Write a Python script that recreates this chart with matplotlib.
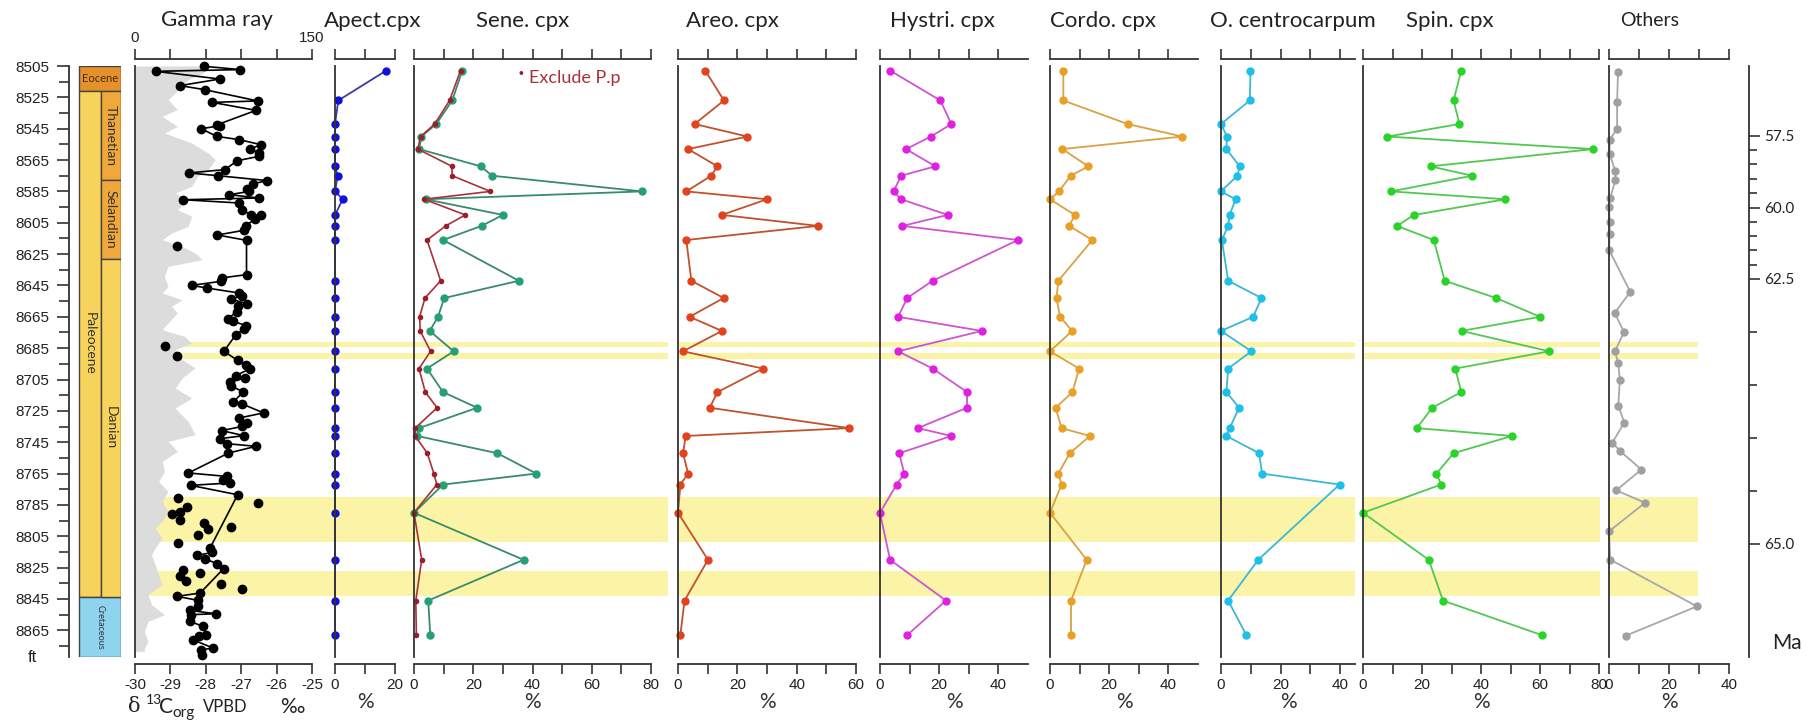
import numpy as np
import matplotlib.pyplot as plt
from matplotlib.patches import Rectangle

W, H = 1816, 721
TOP, BOT = 66, 657            # pixel rows of the plotting strip
YLIM = (8882, 8505)           # depth (ft), increasing downwards

# ---------------- data ----------------
# palynology sample depths (ft)
PAL_DEPTH = [8508, 8527, 8542, 8550, 8558, 8569, 8575, 8585, 8590, 8600, 8607, 8616,
             8642, 8653, 8665, 8674, 8687, 8698, 8713, 8723, 8736, 8741, 8752, 8765,
             8772, 8790, 8820, 8846, 8868]
APECT = [17, 1.1, 0, 0, 0, 0, 0.9, 0, 2.6, 0, 0, 0, 0, 0, 0, 0, 0, 0, 0, 0, 0, 0, 0,
         0, 0, 0, 0, 0, 0]
SENE_ALL = [16.3, 12.9, 7.5, 2.5, 1.7, 22.5, 26.4, 77, 3.9, 30, 22.8, 9.8, 35.4, 10.2,
            8.1, 5.3, 13.4, 4.4, 9.8, 21.3, 1.7, 1.1, 28.1, 41.3, 9.8, 0, 37, 4.8, 5.5]
SENE_EXCL = [15.7, 12.0, 7.0, 2.2, 1.3, 12.8, 12.9, 25.8, 3.4, 17.3, 10.7, 4.4, 9.0, 3.7,
             1.9, 2.1, 5.6, 1.7, 3.8, 7.8, 0.4, 0.4, 4.5, 6.7, 7.7, 0, 2.6, 0.6, 0.8]
AREO = [9.2, 15.5, 5.6, 23.4, 3.4, 13.3, 11.2, 2.8, 30, 14.8, 47.2, 2.8, 4.5, 15.4, 3.9,
        14.8, 1.7, 28.7, 13.3, 10.7, 57.7, 2.6, 1.7, 3.4, 0.8, 0, 10.1, 2.2, 0.8]
HYSTRI = [3.5, 20.4, 24.1, 17.2, 8.8, 18.7, 7.1, 4.6, 7.1, 22.9, 7.6, 46.6, 17.8, 9.2,
          6.1, 34.4, 6.1, 17.8, 29.4, 29.4, 12.8, 24.1, 6.5, 8.2, 5.6, 0, 3.4, 22.3, 9.2]
CORDO = [4.5, 4.5, 26.2, 44.7, 4.2, 12.9, 7.0, 3.0, 0, 8.4, 6.5, 14.3, 2.8, 2.2, 3.4,
         7.5, 0, 9.8, 7.6, 1.9, 3.9, 13.5, 6.7, 2.8, 3.9, 0, 12.4, 7.1, 7.1]
OCENT = [9.9, 9.7, 0, 2.0, 1.8, 6.3, 5.5, 0, 4.9, 2.9, 2.4, 0.3, 2.4, 13.6, 10.8, 0,
         10.2, 2.4, 1.8, 6.1, 2.9, 1.8, 12.8, 13.8, 39.8, np.nan, 12.5, 2.4, 8.5]
SPIN = [33.3, 30.7, 32.7, 8.3, 78, 22.9, 37, 9.5, 48.3, 17.3, 11.5, 24, 27.7, 45.1, 60,
        33.4, 63.1, 31.3, 33.3, 23.5, 18.2, 50.5, 30.7, 24.9, 26.5, 0, 22.3, 27.1, 60.6]
OTHERS_DEPTH = [8509.1, 8528.2, 8545.2, 8552.0, 8560.9, 8572.2, 8578.0, 8589.2, 8594.9,
                8604.7, 8612.1, 8622.2, 8649.1, 8662.5, 8674.7, 8687.0, 8694.6, 8705.5,
                8721.7, 8732.5, 8745.3, 8750.4, 8762.5, 8775.7, 8783.6, 8801.9, 8819.9,
                8849.7, 8868.4]
OTHERS = [3.0, 2.7, 2.7, 0.2, 0.2, 2.1, 2.1, 0.4, 0, 0.2, 0.2, 0, 7.1, 1.9, 5.0, 2.0,
          3.1, 3.6, 3.1, 5.1, 1.1, 3.6, 10.8, 2.4, 12, 0, 0.4, 29.3, 5.6]

# gamma ray log (API)
GR_DEPTH = [8505, 8509.4, 8513.7, 8522.2, 8526.5, 8532.8, 8537.1, 8543.5, 8547.7, 8554.1,
            8560.5, 8564.7, 8571.1, 8575.4, 8581.8, 8586.0, 8590.3, 8596.6, 8600.9, 8607.3,
            8611.5, 8615.8, 8620.1, 8624.3, 8628.5, 8632.8, 8639.2, 8645.6, 8649.8, 8654.1,
            8658.3, 8662.5, 8668.9, 8673.2, 8677.5, 8681.7, 8686.0, 8692.3, 8697.6, 8704.0,
            8710.4, 8716.8, 8723.2, 8731.7, 8740.2, 8744.5, 8750.8, 8757.2, 8763.6, 8770.0,
            8776.4, 8782.7, 8789.1, 8795.5, 8799.7, 8806.1, 8812.5, 8816.7, 8823.1, 8829.5,
            8835.8, 8842.2, 8848.6, 8855.0, 8859.3, 8865.7, 8872.0, 8876.3, 8878.4]
GR_API = [58, 58, 45, 34, 28, 36, 23, 36, 25, 48, 62, 68, 62, 53, 48, 34, 45, 36, 48, 45,
          31, 23, 40, 51, 57, 28, 25, 28, 23, 40, 31, 36, 28, 23, 42, 48, 34, 40, 51, 40,
          34, 48, 34, 45, 51, 28, 36, 23, 25, 20, 28, 23, 28, 23, 17, 23, 17, 14, 17, 20,
          23, 11, 14, 25, 11, 8, 11, 8, 8]

# d13C org (permil), connected series
C13_DEPTH = [8505.2, 8507.3, 8508.4, 8513.3, 8517.5, 8520.1, 8527.3, 8528.2, 8533.3, 8542.4,
             8543.1, 8545.0, 8549.9, 8552.0, 8555.2, 8557.9, 8560.5, 8562.6, 8565.4, 8571.1,
             8573.2, 8575.0, 8578.1, 8580.1, 8583.2, 8585.0, 8587.1, 8589.2, 8590.3, 8592.4,
             8597.1, 8599.8, 8600.3, 8602.6, 8606.9, 8609.8, 8612.8, 8616.2, 8638.1, 8640.2,
             8642.4, 8644.9, 8646.6, 8649.8, 8652.0, 8653.6, 8656.6, 8658.3, 8661.9, 8666.2,
             8667.9, 8670.6, 8672.8, 8676.4, 8687.0, 8692.8, 8696.0, 8698.1, 8702.5, 8704.0,
             8706.6, 8708.9, 8712.9, 8719.6, 8720.6, 8726.3, 8729.5, 8732.7, 8734.9, 8737.6,
             8740.8, 8742.7, 8745.9, 8747.6, 8751.9, 8764.6, 8766.8, 8769.4, 8771.0, 8772.5,
             8778.5, 8812.5, 8815.3, 8817.2, 8819.5, 8822.5, 8825.7, 8841.2, 8843.3, 8845.9,
             8849.7, 8852.3, 8854.4, 8855.0, 8859.3, 8862.5, 8867.8, 8868.9, 8871.0, 8876.3,
             8877.4, 8880.6]
C13_VAL = [-28.05, -27.02, -29.42, -27.60, -28.73, -28.03, -26.53, -27.82, -26.58, -27.67,
           -27.60, -28.13, -27.69, -27.05, -26.44, -26.75, -26.49, -26.49, -27.11, -27.46,
           -28.48, -27.65, -26.26, -26.66, -26.85, -26.77, -27.34, -26.49, -28.63, -27.05,
           -26.97, -26.73, -26.44, -26.61, -26.87, -26.92, -27.67, -26.85, -26.85, -27.55,
           -27.58, -28.40, -27.98, -27.06, -26.99, -27.30, -26.85, -27.08, -27.13, -27.38,
           -27.22, -26.86, -26.92, -27.15, -27.49, -27.10, -26.87, -26.75, -27.15, -26.90,
           -27.32, -27.30, -26.94, -27.24, -26.97, -26.37, -27.05, -26.85, -26.97, -27.55,
           -26.92, -27.60, -27.41, -26.58, -27.36, -28.49, -27.41, -27.52, -27.32, -28.43,
           -27.10, -27.88, -27.82, -28.26, -28.02, -27.67, -27.50, -28.16, -28.82, -28.21,
           -28.21, -28.45, -27.71, -28.43, -28.45, -28.07, -27.99, -28.18, -28.37, -27.79,
           -28.14, -28.12]
# d13C org, unconnected samples
C13_OUT_DEPTH = [8620.1, 8683.9, 8689.8, 8780.6, 8783.8, 8786.6, 8789.5, 8790.6, 8794.4,
                 8796.5, 8799.3, 8800.3, 8804.4, 8809.3, 8826.3, 8828.4, 8830.1, 8833.3,
                 8835.2, 8838.6]
C13_OUT_VAL = [-28.82, -29.15, -28.82, -28.78, -26.53, -28.52, -28.73, -28.96, -28.73,
               -28.04, -27.29, -27.93, -28.21, -28.78, -28.65, -28.16, -28.73, -28.56,
               -27.58, -26.97]

# chronostratigraphy (top, base in ft)
EPOCHS = [("Eocene", 8505, 8520.7), ("Paleocene", 8520.7, 8843.6), ("Cretaceous", 8843.6, 8882)]
STAGES = [("Thanetian", 8520.7, 8578), ("Selandian", 8578, 8628), ("Danian", 8628, 8843.6)]

# highlighted intervals (top, base in ft)
BANDS = [(8681.0, 8684.5), (8688.1, 8691.7), (8779.8, 8808.5), (8827.4, 8843.4)]

# age model tie points
AGE_TIE = [57.5, 60.0, 62.5, 65.0]
AGE_DEPTH = [8549.4, 8595.4, 8640.7, 8809.8]

# ---------------- style ----------------
plt.rcParams["font.family"] = ["Liberation Sans", "DejaVu Sans"]
TFONT = ["Lato", "DejaVu Sans"]
INK = "#333333"
BAND_COLOR = "#FBF4A6"
fig = plt.figure(figsize=(W / 100, H / 100), dpi=100)


def add_ax(x0, x1):
    return fig.add_axes([x0 / W, 1 - BOT / H, (x1 - x0) / W, (BOT - TOP) / H])


# yellow bands in the background
bg = add_ax(0, W)
bg.set_xlim(0, W)
bg.set_ylim(*YLIM)
bg.axis("off")
bg.set_zorder(-2)
for top, base in BANDS:
    for x0, x1 in [(135, 668), (677, 1355), (1364, 1600), (1609, 1698)]:
        bg.fill_between([x0, x1], top, base, color=BAND_COLOR, lw=0)


def style_panel(ax, xmax, ticks, labels):
    ax.set_xlim(0 if xmax > 0 else xmax, xmax if xmax > 0 else 0)
    ax.set_ylim(*YLIM)
    ax.patch.set_visible(False)
    ax.spines["right"].set_visible(False)
    for s in ("top", "bottom"):
        ax.spines[s].set_position(("outward", 5))
    for s in ax.spines.values():
        s.set_color(INK)
        s.set_linewidth(1.3)
    ax.set_yticks([])
    ax.set_xticks(ticks)
    ax.set_xticklabels(labels)
    ax.tick_params(axis="x", top=True, bottom=True, labeltop=False, direction="out",
                   length=7, width=1.2, color=INK, labelsize=11, pad=3, labelcolor="#222222")


# depth axis + stratigraphic column
dax = add_ax(69, 121)
dax.set_xlim(0, 52)
dax.set_ylim(*YLIM)
dax.patch.set_visible(False)
for s in ("right", "top", "bottom"):
    dax.spines[s].set_visible(False)
dax.spines["left"].set_linewidth(1.3)
dax.spines["left"].set_color(INK)
dax.set_xticks([])
dax.set_yticks(np.arange(8505, 8866, 20))
dax.set_yticks(np.arange(8515, 8876, 20), minor=True)
dax.tick_params(axis="y", which="major", length=9, width=1.2, color=INK, labelsize=11, pad=5,
                labelcolor="#222222")
dax.tick_params(axis="y", which="minor", length=7, width=1.2, color=INK)

col_colors = {"Eocene": "#E5912B", "Paleocene": "#F8D35B", "Cretaceous": "#8FD4EF",
              "Thanetian": "#F1A83B", "Selandian": "#F1A83B", "Danian": "#F8D35B"}
for name, top, base in EPOCHS:
    x0, w = (10, 42) if name != "Paleocene" else (10, 22)
    dax.add_patch(Rectangle((x0, top), w, base - top, fc=col_colors[name], ec="#444444", lw=1))
    mid = (top + base) / 2
    if name == "Eocene":
        dax.text(x0 + w / 2, mid, name, ha="center", va="center", fontsize=8,
                 family=TFONT, color="#4a2a10")
    else:
        dax.text(x0 + w / 2, mid, name, ha="center", va="center", rotation=-90,
                 fontsize=10 if name == "Paleocene" else 6.5, family=TFONT, color="#333333")
for name, top, base in STAGES:
    dax.add_patch(Rectangle((32, top), 20, base - top, fc=col_colors[name], ec="#444444", lw=1))
    dax.text(42, (top + base) / 2, name, ha="center", va="center", rotation=-90,
             fontsize=10, family=TFONT, color="#333333")
fig.text(32 / W, 1 - 657 / H, "ft", ha="center", va="center", fontsize=12, color="#222222")

# gamma ray + d13C panel
cax = add_ax(135, 312)
style_panel(cax, -25, [-30, -29, -28, -27, -26, -25], ["-30", "-29", "-28", "-27", "-26", "-25"])
cax.set_xlim(-30, -25)
cax.spines["top"].set_visible(False)
cax.tick_params(axis="x", top=False)
gax = cax.twiny()
gax.set_zorder(-1)
gax.patch.set_visible(False)
gax.set_xlim(0, 150)
for s in ("left", "right", "bottom"):
    gax.spines[s].set_visible(False)
gax.spines["top"].set_position(("outward", 5))
gax.spines["top"].set_linewidth(1.3)
gax.spines["top"].set_color(INK)
gax.set_xticks([0, 30, 60, 90, 120, 150])
gax.set_xticklabels(["0", "", "", "", "", "150"])
gax.tick_params(axis="x", length=7, width=1.2, color=INK, labelsize=11, pad=3, labelcolor="#222222")
gax.fill_betweenx(GR_DEPTH, 0, GR_API, color="#DCDCDC", lw=0)
cax.plot(C13_VAL, C13_DEPTH, "-o", color="black", lw=1.2, ms=6, clip_on=False)
cax.plot(C13_OUT_VAL, C13_OUT_DEPTH, "o", color="black", ms=6, clip_on=False)

# palynology panels
panels = [
    ("Apect.cpx", 335, 395, 20, 20, APECT, "#3a3aa8", "#1010d8", 373),
    ("Sene. cpx", 414, 651, 80, 80, SENE_ALL, "#3a8a6c", "#25a075", 523),
    ("Areo. cpx", 678, 856, 60, 60, AREO, "#c0522e", "#e2431c", 732),
    ("Hystri. cpx", 880, 1028, 50, 40, HYSTRI, "#cf55d0", "#e020e0", 942),
    ("Cordo. cpx", 1050, 1198, 50, 40, CORDO, "#d9a244", "#e9a024", 1103),
    ("O. centrocarpum", 1221, 1355, 45, 40, OCENT, "#3eb6d6", "#1cc0e8", 1293),
    ("Spin. cpx", 1363, 1599, 80, 80, SPIN, "#52c852", "#28d428", 1450),
    ("Others", 1609, 1729, 40, 40, OTHERS, "#a8a8a8", "#a0a0a0", 1650),
]
for title, x0, x1, xmax, tmax, vals, lc, mc, tx in panels:
    ax = add_ax(x0, x1)
    ticks = list(range(0, tmax + 1, 10))
    style_panel(ax, xmax, ticks, [str(t) if t % 20 == 0 else "" for t in ticks])
    depth = OTHERS_DEPTH if title == "Others" else PAL_DEPTH
    v = np.array(vals, dtype=float)
    d = np.array(depth, dtype=float)
    ok = np.isfinite(v)
    ax.plot(v[ok], d[ok], "-o", color=lc, mfc=mc, mec=mc, lw=1.3, ms=5, clip_on=False)
    if title == "Sene. cpx":
        ax.plot(SENE_EXCL, PAL_DEPTH, "-o", color="#a8323a", mfc="#9a1e28", mec="#9a1e28",
                lw=1.2, ms=3, clip_on=False)
    ax.set_xlabel("%", family=TFONT, fontsize=15, labelpad=0, color="#333333")
    fig.text(tx / W, 1 - 21 / H, title, ha="center", va="center", family=TFONT,
             fontsize=14 if title == "Others" else 16, color="#222222")

fig.text(217 / W, 1 - 20 / H, "Gamma ray", ha="center", va="center", family=TFONT,
         fontsize=16, color="#222222")

# legend for the red series
fig.text(521 / W, 1 - 74 / H, "\u2022", ha="center", va="center", fontsize=10, color="#9a1e28")
fig.text(529 / W, 1 - 78 / H, "Exclude P.p", ha="left", va="center", family=TFONT,
         fontsize=13, color="#a8323a")

# d13C axis label
ly = 1 - 707 / H
fig.text(128 / W, ly, "\u03b4", ha="left", va="center", family="DejaVu Serif", fontsize=15,
         color="#222222")
fig.text(146 / W, 1 - 700 / H, "13", ha="left", va="center", family=TFONT, fontsize=10,
         color="#222222")
fig.text(159 / W, ly, "C", ha="left", va="center", family=TFONT, fontsize=15, color="#222222")
fig.text(172 / W, 1 - 713 / H, "org", ha="left", va="center", family=TFONT, fontsize=11,
         color="#222222")
fig.text(203 / W, ly, "VPBD", ha="left", va="center", family=TFONT, fontsize=12,
         color="#222222")
fig.text(280 / W, ly, "\u2030", ha="left", va="center", family=TFONT, fontsize=15,
         color="#222222")

# age axis (Ma)
max_ = add_ax(1740, 1749)
max_.set_ylim(*YLIM)
max_.patch.set_visible(False)
for s in ("left", "top", "bottom"):
    max_.spines[s].set_visible(False)
max_.spines["right"].set_linewidth(1.3)
max_.spines["right"].set_color(INK)
max_.set_xticks([])
max_.yaxis.tick_right()
max_.set_yticks(np.interp(AGE_TIE, AGE_TIE, AGE_DEPTH))
max_.set_yticklabels([f"{a:.1f}" for a in AGE_TIE])
minor_ages = [a for a in np.arange(AGE_TIE[0], AGE_TIE[-1] + 0.01, 0.5) if a not in AGE_TIE]
max_.set_yticks(np.interp(minor_ages, AGE_TIE, AGE_DEPTH), minor=True)
max_.tick_params(axis="y", which="major", length=8, width=1.2, color=INK, pad=3,
                 labelsize=11, labelcolor="#222222")
max_.tick_params(axis="y", which="minor", length=6, width=1.2, color=INK)
for lab in max_.get_yticklabels():
    lab.set_family(TFONT)
fig.text(1772 / W, 1 - 643 / H, "Ma", ha="left", va="center", family=TFONT, fontsize=15,
         color="#222222")

fig.savefig("out.png", dpi=100)
